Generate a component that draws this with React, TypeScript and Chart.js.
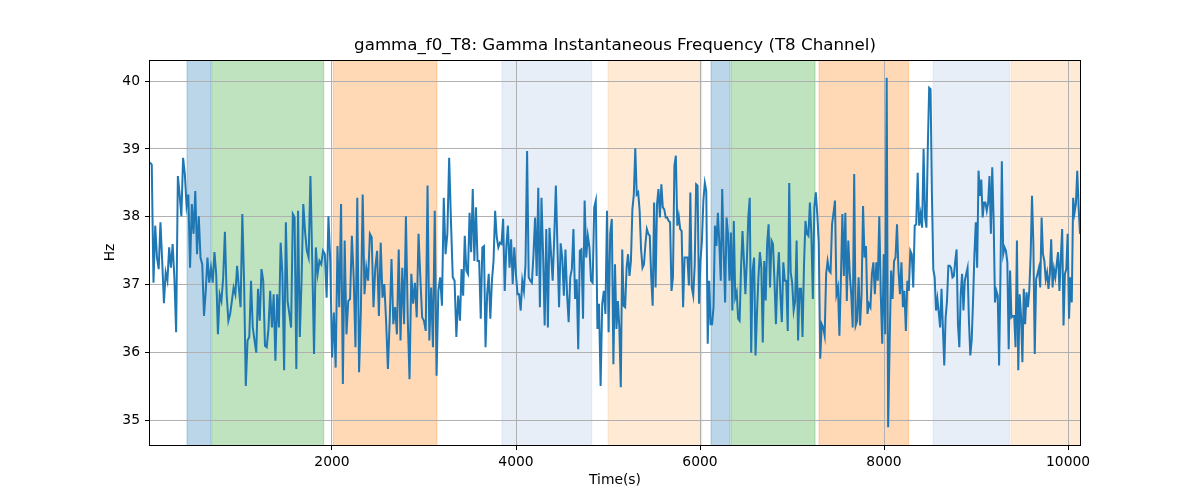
import React, { useEffect, useRef } from "react";
import { Chart, registerables } from "chart.js";

Chart.register(...registerables);

const TITLE = "gamma_f0_T8: Gamma Instantaneous Frequency (T8 Channel)";
const X_LABEL = "Time(s)";
const Y_LABEL = "Hz";

const xTicks = [2000, 4000, 6000, 8000, 10000];
const yTicks = [35, 36, 37, 38, 39, 40];
const xRange = [22, 10130];
const yRange = [34.64, 40.31];

// time bounds of consecutive sample blocks (samples evenly spaced inside a block)
const segmentBounds = [22, 1707, 3391, 5076, 6761, 8446, 10130];

const seg1 = [38.8, 38.77, 37.03, 37.87, 37.4, 37.23, 37.92, 37.35, 36.73, 37.18, 37.06, 37.55, 37.25, 37.6, 37.1, 36.3, 38.6, 38.33, 38.01, 38.87, 38.63, 38.16, 38.33, 37.25, 38.19, 37.75, 38.38, 37.45, 38.01, 37.4, 37.3, 36.54, 36.91, 37.4, 37.03, 37.25, 37.03, 37.48, 37.16, 36.27, 36.86, 36.76, 37.1, 37.78, 36.86, 36.47, 36.57, 36.76, 36.96, 36.86, 37.28, 36.96, 36.67, 38.04, 37.06, 35.51, 36.18, 36.23, 37.06, 36.37, 36.18, 36.0, 36.94, 36.47, 37.23, 37.06, 36.1, 36.08, 36.35, 36.91, 36.37, 36.86, 35.88, 36.86, 36.37, 37.62, 37.16, 35.74, 37.92, 36.76, 36.57, 36.37, 38.04, 37.99, 35.76, 38.09, 36.23, 37.06, 38.19];

const seg2 = [37.79, 37.5, 37.4, 38.6, 37.35, 35.98, 37.55, 37.16, 37.35, 37.3, 37.5, 37.45, 36.81, 38.01, 37.35, 35.93, 36.59, 35.78, 37.57, 36.67, 38.19, 35.54, 37.65, 36.27, 36.76, 36.79, 37.72, 37.11, 36.08, 38.28, 35.71, 36.62, 38.33, 36.86, 37.25, 37.06, 37.75, 37.7, 36.67, 37.25, 37.5, 36.54, 37.62, 36.81, 37.01, 36.47, 35.76, 36.47, 37.38, 36.42, 36.67, 36.27, 37.52, 36.18, 37.25, 36.42, 38.01, 36.52, 35.61, 37.16, 36.72, 37.03, 36.52, 37.75, 37.11, 36.52, 36.47, 36.32, 38.46, 36.18, 36.96, 36.08, 38.09, 35.66, 36.91, 37.11, 36.69, 38.28, 37.45, 37.75, 38.87, 37.94, 37.11, 37.06, 36.23, 36.84];

const seg3 = [36.47, 37.23, 36.84, 37.72, 37.21, 37.16, 38.06, 37.48, 38.41, 37.35, 38.14, 37.35, 37.35, 36.5, 37.55, 37.57, 36.08, 36.86, 37.16, 36.5, 37.06, 37.35, 38.09, 37.7, 37.55, 37.62, 37.6, 37.97, 36.91, 37.55, 37.87, 37.25, 37.67, 37.01, 37.55, 37.16, 36.86, 36.86, 36.62, 37.06, 36.91, 37.3, 38.97, 37.11, 37.06, 37.03, 37.45, 37.99, 37.13, 38.43, 36.67, 38.28, 37.45, 36.4, 37.82, 36.37, 37.84, 37.45, 37.06, 37.7, 38.46, 37.55, 36.67, 37.61, 37.4, 36.84, 37.52, 36.86, 36.45, 37.11, 37.23, 37.82, 36.79, 37.08, 36.05, 37.5, 37.52, 36.5, 38.24, 37.4, 37.72, 37.55, 37.06, 37.03, 38.14, 38.24, 36.35, 36.72, 35.51, 36.72, 36.91, 36.57, 38.09, 36.3, 37.75, 37.97, 35.83];

const seg4 = [37.3, 36.35, 36.76, 36.37, 35.49, 37.52, 36.69, 36.67, 37.25, 37.45, 37.13, 37.35, 38.11, 38.33, 39.01, 38.33, 38.36, 38.09, 37.52, 37.25, 37.3, 37.6, 37.82, 37.75, 37.72, 37.11, 36.69, 38.21, 36.96, 38.19, 38.41, 37.99, 38.48, 38.14, 38.11, 37.99, 37.99, 37.94, 37.92, 36.91, 37.11, 38.75, 38.9, 37.87, 38.01, 37.82, 37.79, 36.67, 37.4, 37.4, 37.4, 36.99, 38.36, 36.96, 36.84, 37.28, 38.48, 38.46, 36.72, 37.35, 37.65, 38.24, 38.5, 38.38, 36.13, 37.06, 36.42, 36.42, 36.67, 37.87, 37.57, 38.06, 37.62, 37.06, 38.41, 37.5, 36.74, 37.99, 37.75, 37.06, 37.77, 36.62, 37.94, 36.81, 36.89, 36.5, 36.47, 37.25, 37.79, 37.35, 36.86, 37.35, 37.99, 38.28, 36.0, 37.21, 37.4, 35.96, 36.59, 37.11, 37.48, 37.25, 36.15, 37.35, 36.77, 37.6, 37.89];

const seg5 = [36.96, 37.65, 37.6, 37.06, 36.42, 37.11, 37.48, 36.86, 36.45, 37.33, 37.06, 37.06, 36.32, 38.5, 37.18, 37.03, 36.62, 36.76, 37.65, 36.18, 36.94, 36.94, 36.23, 37.28, 37.94, 37.75, 37.72, 38.21, 37.75, 36.79, 38.14, 38.36, 38.04, 37.62, 35.91, 36.42, 36.37, 36.25, 37.16, 37.35, 37.21, 37.18, 37.89, 38.06, 38.24, 36.86, 36.96, 36.25, 37.08, 38.04, 37.13, 38.06, 36.76, 37.65, 37.16, 36.86, 36.37, 38.63, 36.4, 36.47, 37.11, 36.4, 36.86, 38.16, 37.4, 37.57, 36.57, 36.72, 36.67, 37.16, 37.33, 36.86, 37.33, 37.06, 38.01, 36.86, 36.13, 37.45, 36.27, 40.05, 34.9, 36.13, 37.21, 36.79, 37.35, 37.4, 37.89, 37.21, 36.86, 37.33, 36.67, 36.91, 36.32, 37.06, 36.91, 37.5, 37.45, 36.96, 37.87, 37.89, 38.65, 37.87, 38.04, 37.84, 39.0];

const seg6 = [37.99, 37.84, 39.02, 39.9, 39.88, 38.33, 37.23, 37.11, 36.62, 36.79, 36.59, 36.37, 36.94, 36.37, 35.81, 36.52, 36.76, 37.28, 37.28, 37.25, 37.11, 37.13, 37.35, 37.52, 36.42, 36.08, 36.86, 37.16, 36.62, 37.06, 37.16, 37.25, 36.47, 35.96, 36.18, 36.76, 37.45, 37.92, 37.25, 38.68, 38.31, 38.55, 37.99, 38.21, 38.21, 38.09, 38.21, 38.6, 37.75, 38.73, 37.97, 36.74, 36.91, 36.84, 35.81, 37.16, 38.82, 37.45, 37.55, 37.5, 37.33, 36.05, 37.21, 36.52, 36.54, 36.54, 36.08, 37.65, 35.74, 36.86, 36.54, 35.86, 36.94, 36.42, 36.89, 36.67, 36.91, 37.43, 38.31, 37.6, 35.98, 37.08, 37.16, 37.25, 36.96, 37.99, 37.45, 37.35, 37.08, 37.18, 36.94, 37.16, 37.67, 36.96, 37.23, 37.11, 37.3, 37.48, 36.91, 37.4, 37.82, 36.4, 37.16, 37.23, 37.75, 36.5, 37.11, 36.74, 38.28, 38.06, 38.19, 38.68, 38.14, 37.75];

const segments = [seg1, seg2, seg3, seg4, seg5, seg6];

// shaded intervals
const spanStart = [424, 692, 2014, 3848, 5000, 6120, 6337, 7293, 8533, 9380];
const spanEnd = [681, 1910, 3141, 4823, 6018, 6326, 7250, 8268, 9362, 10200];
const spanColor = [
  "31,119,180",
  "44,160,44",
  "255,127,14",
  "174,199,232",
  "255,187,120",
  "31,119,180",
  "44,160,44",
  "255,127,14",
  "174,199,232",
  "255,187,120",
];

function buildPoints() {
  const pts: { x: number; y: number }[] = [];
  segments.forEach((seg, k) => {
    const t0 = segmentBounds[k];
    const t1 = segmentBounds[k + 1];
    const last = k === segments.length - 1;
    const div = last ? seg.length - 1 : seg.length;
    seg.forEach((v, i) => {
      pts.push({ x: t0 + ((t1 - t0) * i) / div, y: v });
    });
  });
  return pts;
}

const spanPlugin = {
  id: "spans",
  beforeDraw(chart: any) {
    const { ctx, chartArea, scales } = chart;
    const xs = scales.x;
    ctx.save();
    for (let i = 0; i < spanStart.length; i++) {
      let a = xs.getPixelForValue(spanStart[i]);
      let b = xs.getPixelForValue(spanEnd[i]);
      a = Math.max(a, chartArea.left);
      b = Math.min(b, chartArea.right);
      ctx.fillStyle = `rgba(${spanColor[i]},0.3)`;
      ctx.fillRect(a, chartArea.top, b - a, chartArea.bottom - chartArea.top);
      ctx.strokeStyle = `rgba(${spanColor[i]},0.3)`;
      ctx.lineWidth = 1;
      ctx.beginPath();
      ctx.moveTo(a, chartArea.top);
      ctx.lineTo(a, chartArea.bottom);
      if (b < chartArea.right) {
        ctx.moveTo(b, chartArea.top);
        ctx.lineTo(b, chartArea.bottom);
      }
      ctx.stroke();
    }
    ctx.restore();
  },
};

const framePlugin = {
  id: "frame",
  afterDraw(chart: any) {
    const { ctx, chartArea } = chart;
    ctx.save();
    ctx.strokeStyle = "#000";
    ctx.lineWidth = 1;
    ctx.strokeRect(
      Math.round(chartArea.left) - 0.5,
      Math.round(chartArea.top) + 0.5,
      Math.round(chartArea.right - chartArea.left) + 1,
      Math.round(chartArea.bottom - chartArea.top)
    );
    // title centred over the plot area
    ctx.fillStyle = "#000";
    ctx.font = "16.67px 'DejaVu Sans', sans-serif";
    ctx.textAlign = "center";
    ctx.textBaseline = "middle";
    ctx.fillText(TITLE, (chartArea.left + chartArea.right) / 2, 46);
    ctx.restore();
  },
};

export default function App() {
  const ref = useRef<HTMLCanvasElement | null>(null);

  useEffect(() => {
    document.body.style.margin = "0";
    const canvas = ref.current;
    if (!canvas) return;
    Chart.defaults.font.family = "'DejaVu Sans', sans-serif";
    Chart.defaults.color = "#000";
    const tickFont = { family: "'DejaVu Sans', sans-serif", size: 13.89 };
    const chart = new Chart(canvas, {
      type: "line",
      data: {
        datasets: [
          {
            data: buildPoints(),
            borderColor: "#1f77b4",
            borderWidth: 2,
            pointRadius: 0,
            tension: 0,
            fill: false,
          },
        ],
      },
      options: {
        animation: false,
        responsive: false,
        devicePixelRatio: 1,
        layout: { padding: { left: 0, right: 120, top: 60, bottom: 0 } },
        plugins: {
          legend: { display: false },
          tooltip: { enabled: false },
          title: { display: false },
        },
        scales: {
          x: {
            type: "linear",
            min: xRange[0],
            max: xRange[1],
            afterBuildTicks: (s: any) => {
              s.ticks = xTicks.map((v) => ({ value: v }));
            },
            afterFit: (s: any) => {
              s.height = 55;
            },
            ticks: {
              font: tickFont,
              color: "#000",
              padding: 4,
              maxRotation: 0,
              autoSkip: false,
              callback: (v: any) => String(v),
            },
            grid: {
              color: "#b0b0b0",
              lineWidth: 1,
              tickColor: "#000",
              tickLength: 5,
              drawTicks: true,
            },
            border: { display: false },
            title: {
              display: true,
              text: X_LABEL,
              font: tickFont,
              color: "#000",
              padding: { top: 0, bottom: 11 },
            },
          },
          y: {
            type: "linear",
            min: yRange[0],
            max: yRange[1],
            afterBuildTicks: (s: any) => {
              s.ticks = yTicks.map((v) => ({ value: v }));
            },
            afterFit: (s: any) => {
              s.width = 150;
            },
            ticks: {
              font: tickFont,
              color: "#000",
              padding: 5,
              autoSkip: false,
              callback: (v: any) => String(v),
            },
            grid: {
              color: "#b0b0b0",
              lineWidth: 1,
              tickColor: "#000",
              tickLength: 5,
              drawTicks: true,
            },
            border: { display: false },
            title: {
              display: true,
              text: Y_LABEL,
              font: tickFont,
              color: "#000",
              padding: { top: 101.7, bottom: 0 },
            },
          },
        },
      },
      plugins: [spanPlugin, framePlugin],
    } as any);
    return () => chart.destroy();
  }, []);

  return (
    <div style={{ width: 1200, height: 500 }}>
      <canvas ref={ref} width={1200} height={500} style={{ display: "block" }} />
    </div>
  );
}
